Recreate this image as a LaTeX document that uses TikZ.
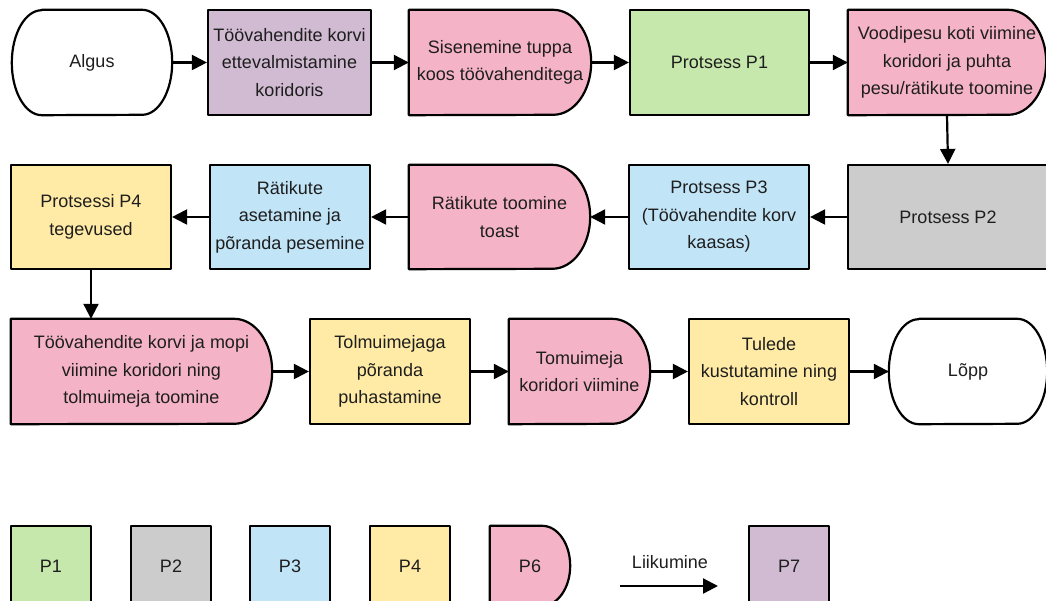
\documentclass[tikz,border=0pt]{standalone}
\usepackage{fontspec}
\setmainfont{Liberation Sans}
\usetikzlibrary{arrows.meta,backgrounds}

\definecolor{cpone}{HTML}{C7E8AC}
\definecolor{cptwo}{HTML}{CCCCCC}
\definecolor{cpthree}{HTML}{C1E4F7}
\definecolor{cpfour}{HTML}{FFEBA5}
\definecolor{cpsix}{HTML}{F4B3C6}
\definecolor{cpseven}{HTML}{D1BBD2}
\definecolor{txt}{HTML}{1E1E1E}

\tikzset{
  outl/.style={draw=black, line width=2.2pt, line join=round},
  lbl/.style={inner sep=0pt, align=center, text=txt,
              font=\fontsize{18}{27.5}\selectfont},
  procbox/.style={lbl, outl, minimum height=105pt},
  shapebox/.style={lbl, draw=none, minimum height=105pt},
  legbox/.style={lbl, outl, minimum width=80pt, minimum height=80pt},
  flow/.style={line width=2.2pt, -{Triangle[length=15pt, width=15pt]}},
}

% D-shaped "delay" outline: flat left side, elliptic right end
\newcommand\delayoutline[4]{%
  \draw[outl, fill=#2] (#1.north west) -- ([xshift=-#3]#1.north east)
    arc[start angle=90, end angle=-90, x radius=#3, y radius=#4]
    -- (#1.south west) -- cycle;}
% terminator outline: both ends rounded
\newcommand\termoutline[4]{%
  \draw[outl, fill=#2] ([xshift=#3]#1.north west) -- ([xshift=-#3]#1.north east)
    arc[start angle=90, end angle=-90, x radius=#3, y radius=#4]
    -- ([xshift=#3]#1.south west)
    arc[start angle=270, end angle=90, x radius=#3, y radius=#4] -- cycle;}

\begin{document}
\begin{tikzpicture}[x=1pt, y=-1pt]
\useasboundingbox (0,0) rectangle (1046,601);

% --- first row
\node[shapebox, minimum width=160pt] (algus) at (92,62.5) {Algus};
\node[procbox, fill=cpseven, minimum width=163pt] (prep) at (289.5,62.5)
  {Töövahendite korvi\\ettevalmistamine\\koridoris};
\node[shapebox, minimum width=182pt] (enter) at (500,62.5)
  {Sisenemine tuppa\\koos töövahenditega};
\node[procbox, fill=cpone, minimum width=179pt] (p1) at (719.5,62.5) {Protsess P1};
\node[shapebox, minimum width=198pt] (bedding) at (947,62.5)
  {Voodipesu koti viimine\\koridori ja puhta\\pesu/rätikute toomine};

% --- second row
\node[procbox, fill=cpfour, minimum width=160pt, minimum height=104pt] (p4) at (91,217)
  {Protsessi P4\\tegevused};
\node[procbox, fill=cpthree, minimum width=160pt, minimum height=104pt] (towels) at (290,217)
  {Rätikute\\asetamine ja\\põranda pesemine};
\node[shapebox, minimum width=181pt, minimum height=104pt] (towelsin) at (499.5,217)
  {Rätikute toomine\\toast};
\node[procbox, fill=cpthree, minimum width=180pt, minimum height=104pt] (p3) at (719,217)
  {Protsess P3\\(Töövahendite korv\\kaasas)};
\node[procbox, fill=cptwo, minimum width=200pt, minimum height=104pt] (p2) at (948,217)
  {Protsess P2};

% --- third row
\node[shapebox, minimum width=261pt] (basket) at (141.5,371.5)
  {Töövahendite korvi ja mopi\\viimine koridori ning\\tolmuimeja toomine};
\node[procbox, fill=cpfour, minimum width=160pt] (vacuum) at (390,371.5)
  {Tolmuimejaga\\põranda\\puhastamine};
\node[shapebox, minimum width=141pt] (vaccorr) at (579.5,371.5)
  {Tomuimeja\\koridori viimine};
\node[procbox, fill=cpfour, minimum width=160pt] (lights) at (769,371.5)
  {Tulede\\kustutamine ning\\kontroll};
\node[shapebox, minimum width=158pt] (finish) at (968,371.5) {Lõpp};

% --- legend
\node[legbox, fill=cpone] (lp1) at (51,566) {P1};
\node[legbox, fill=cptwo] (lp2) at (171,566) {P2};
\node[legbox, fill=cpthree] (lp3) at (290,566) {P3};
\node[legbox, fill=cpfour] (lp4) at (410,566) {P4};
\node[lbl, minimum width=80pt, minimum height=80pt] (lp6) at (530,566) {P6};
\node[legbox, fill=cpseven] (lp7) at (789,566) {P7};
\coordinate (la) at (620,586);
\coordinate (lb) at (718,586);
\node[lbl] (lmove) at (670,562) {Liikumine};

% outlines of the rounded shapes, kept behind their text
\begin{pgfonlayer}{background}
  \termoutline{algus}{white}{30pt}{52.5pt}
  \delayoutline{enter}{cpsix}{38pt}{52.5pt}
  \delayoutline{bedding}{cpsix}{38pt}{52.5pt}
  \delayoutline{towelsin}{cpsix}{38pt}{52pt}
  \delayoutline{basket}{cpsix}{38pt}{52.5pt}
  \delayoutline{vaccorr}{cpsix}{38pt}{52.5pt}
  \termoutline{finish}{white}{30pt}{52.5pt}
  \delayoutline{lp6}{cpsix}{28pt}{40pt}
\end{pgfonlayer}

% --- connectors
\draw[flow] (algus) -- (prep);
\draw[flow] (prep) -- (enter);
\draw[flow] (enter) -- (p1);
\draw[flow] (p1) -- (bedding);
\draw[flow] (bedding.south) -- (p2.north);
\draw[flow] (p2) -- (p3);
\draw[flow] (p3) -- (towelsin);
\draw[flow] (towelsin) -- (towels);
\draw[flow] (towels) -- (p4);
\draw[flow] (p4.south) -- (p4.south |- basket.north);
\draw[flow] (basket) -- (vacuum);
\draw[flow] (vacuum) -- (vaccorr);
\draw[flow] (vaccorr) -- (lights);
\draw[flow] (lights) -- (finish);
\draw[flow] (la) -- (lb);
\end{tikzpicture}
\end{document}
